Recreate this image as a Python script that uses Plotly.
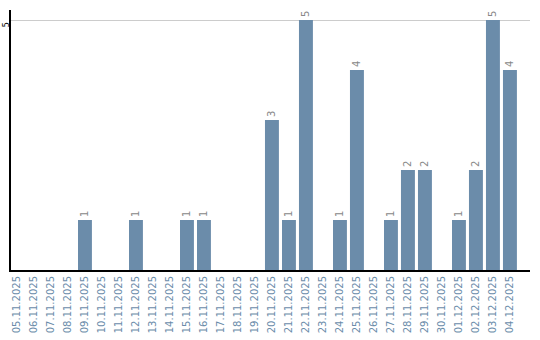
import plotly.graph_objects as go

dates = ["05.11.2025","06.11.2025","07.11.2025","08.11.2025","09.11.2025","10.11.2025",
         "11.11.2025","12.11.2025","13.11.2025","14.11.2025","15.11.2025","16.11.2025",
         "17.11.2025","18.11.2025","19.11.2025","20.11.2025","21.11.2025","22.11.2025",
         "23.11.2025","24.11.2025","25.11.2025","26.11.2025","27.11.2025","28.11.2025",
         "29.11.2025","30.11.2025","01.12.2025","02.12.2025","03.12.2025","04.12.2025"]
values = [0,0,0,0,1,0,0,1,0,0,1,1,0,0,0,3,1,5,0,1,4,0,1,2,2,0,1,2,5,4]

labels = [str(v) if v > 0 else "" for v in values]

fig = go.Figure(go.Bar(
    x=list(range(len(dates))), y=values, text=labels, textposition="outside",
    textangle=-90, width=0.82,
    textfont=dict(family="DejaVu Sans", size=10, color="#888888"),
    marker=dict(color="#6b8caa", line=dict(width=0)),
    cliponaxis=False,
))
fig.update_layout(
    width=540, height=340, margin=dict(l=11, r=10, t=10, b=70, autoexpand=False),
    paper_bgcolor="white", plot_bgcolor="white", showlegend=False,
)
fig.update_xaxes(
    tickmode="array", tickvals=list(range(len(dates))), ticktext=dates,
    tickangle=-90, range=[-0.35, 30.18], showgrid=False, automargin=False,
    showline=True, linecolor="black", linewidth=2, ticks="",
    tickfont=dict(family="DejaVu Sans", size=10, color="#6b8caa"),
)
fig.update_yaxes(
    range=[0, 5.2], tickvals=[5], ticktext=["5"], showgrid=True, automargin=False,
    gridcolor="#cccccc", gridwidth=1, showline=True, linecolor="black",
    linewidth=2, zeroline=False, ticks="", tickangle=-90, ticklabelstandoff=-3,
    ticklabelshift=6,
    tickfont=dict(family="DejaVu Sans", size=8, color="black"),
)
fig.write_html("out.html")
